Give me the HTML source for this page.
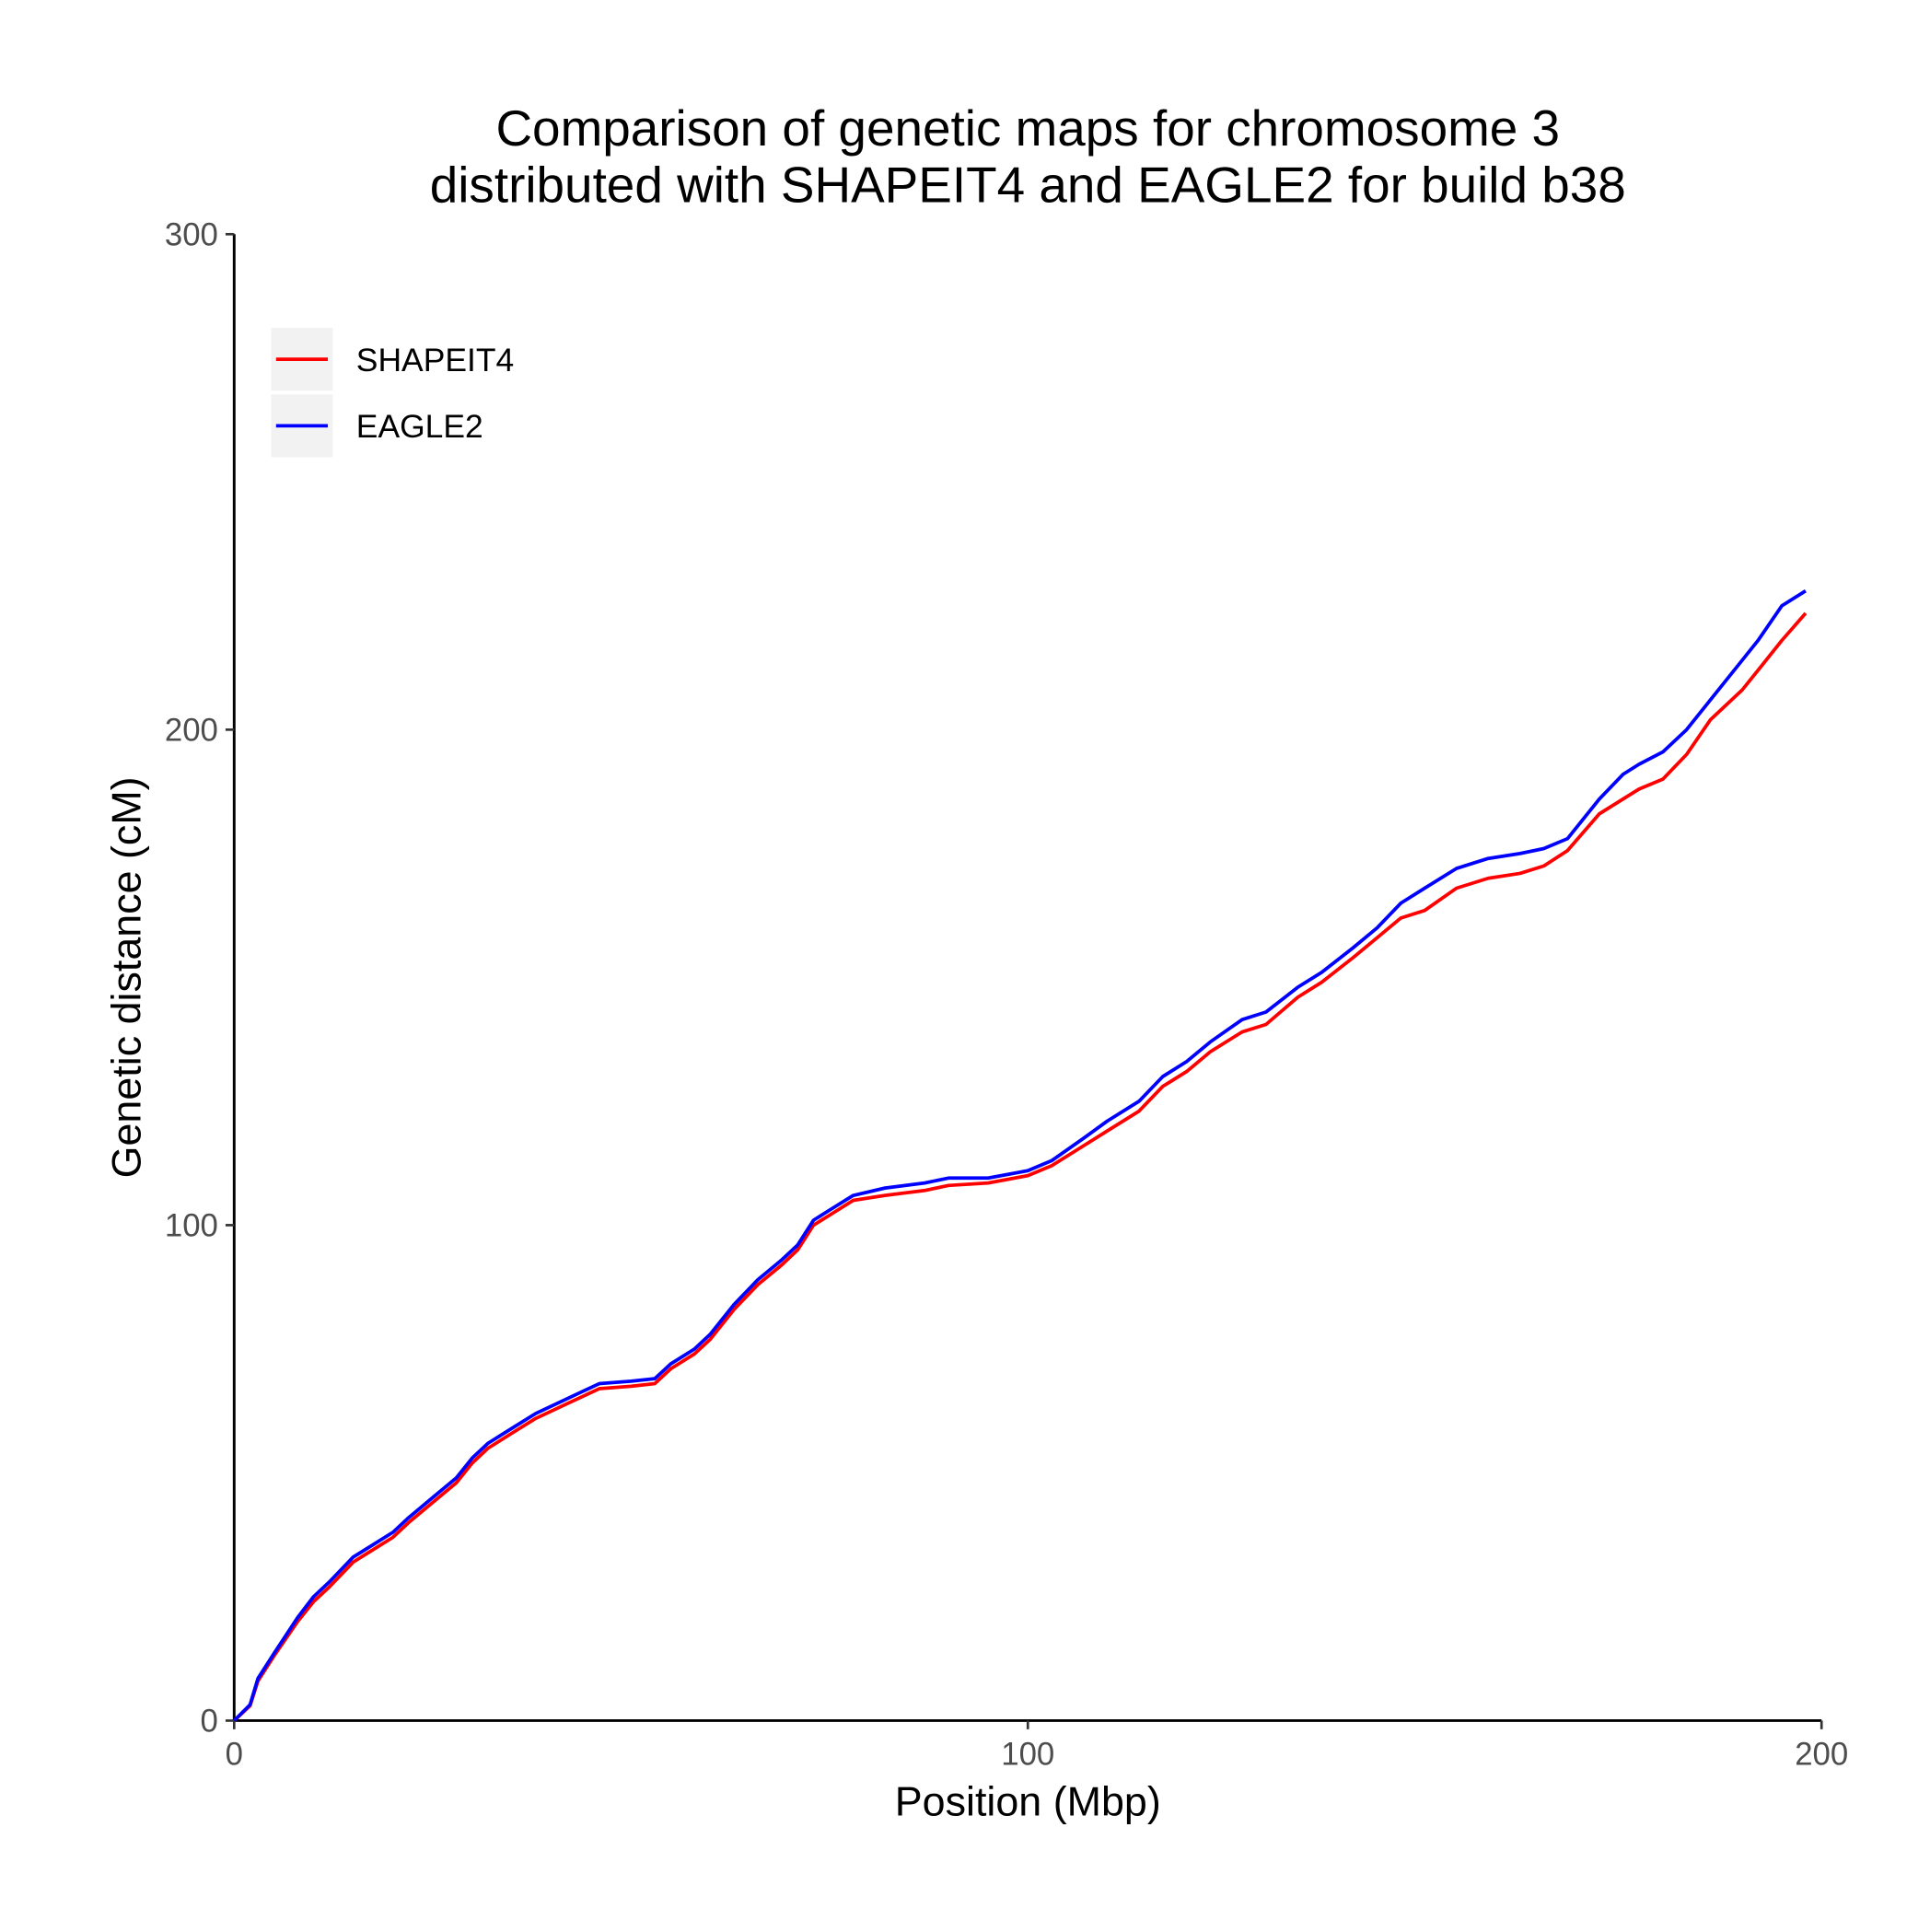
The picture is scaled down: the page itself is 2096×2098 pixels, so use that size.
<!DOCTYPE html>
<html><head><meta charset="utf-8"><style>
html,body{margin:0;padding:0;background:#fff;}
svg{display:block;font-family:"Liberation Sans",Arial,sans-serif;}
</style></head><body>
<svg id="chart" width="2096" height="2098" viewBox="0 0 1566.0 1567.5" preserveAspectRatio="none" xmlns="http://www.w3.org/2000/svg">
<text x="834" y="118" font-size="41" text-anchor="middle">Comparison of genetic maps for chromosome 3</text>
<text x="834" y="164" font-size="41" text-anchor="middle">distributed with SHAPEIT4 and EAGLE2 for build b38</text>
<g id="axes"></g>
<g id="series"></g>
<g>
<rect x="220" y="266" width="50" height="51" fill="#f2f2f2"/>
<line x1="224" y1="291.5" x2="266" y2="291.5" stroke="#ff0000" stroke-width="2.8"/>
<text x="289" y="301" font-size="26.5">SHAPEIT4</text>
<rect x="220" y="320" width="50" height="51" fill="#f2f2f2"/>
<line x1="224" y1="345.5" x2="266" y2="345.5" stroke="#0000ff" stroke-width="2.8"/>
<text x="289" y="355" font-size="26.5">EAGLE2</text>
</g>
<text x="834" y="1473" font-size="33.5" text-anchor="middle">Position (Mbp)</text>
<text transform="translate(114,793) rotate(-90)" font-size="33.5" text-anchor="middle">Genetic distance (cM)</text>
</svg>
<script>
const xTicks=[0,100,200];
const yTicks=[0,100,200,300];
const shapeitPos=[0,2,3,5,8,10,12,15,17,20,22,25,28,30,32,35,38,42,46,50,53,55,58,60,63,66,69,71,73,75,78,82,87,90,95,100,103,107,110,114,117,120,123,127,130,134,137,141,144,147,150,154,158,162,165,168,172,177,180,183,186,190,192,195,198];
const shapeitCM=[0,3,8,13,20,24,27,32,34,37,40,44,48,52,55,58,61,64,67,67.5,68,71,74,77,83,88,92,95,100,102,105,106,107,108,108.5,110,112,116,119,123,128,131,135,139,140.5,146,149,154,158,162,163.5,168,170,171,172.5,175.6,183,188,190,195,202,208,212,218,223.5];
const eaglePos=[0,2,3,5,8,10,12,15,17,20,22,25,28,30,32,35,38,42,46,50,53,55,58,60,63,66,69,71,73,75,78,82,87,90,95,100,103,107,110,114,117,120,123,127,130,134,137,141,144,147,150,154,158,162,165,168,172,175,177,180,183,186,190,192,195,198];
const eagleCM=[0,3.2,8.5,13.5,20.8,25,28,33,35,38,41,45,49,53,56,59,62,65,68,68.5,69,72,75,78,84,89,93,96,101,103,106,107.5,108.5,109.5,109.5,111,113,117.5,121,125,130,133,137,141.5,143,148,151,156,160,165,168,172,174,175,176,178,186,191,193,195.5,200,206,214,218,225,228];
const X0=190,X1=1478,Y0=1396,Y1=190;
function sx(v){return X0+(v-0)/(200-0)*(X1-X0);}
function sy(v){return Y0-(v-0)/(300-0)*(Y0-Y1);}
const NS='http://www.w3.org/2000/svg';
const axes=document.getElementById('axes');
function mk(tag,attrs,parent){const e=document.createElementNS(NS,tag);for(const k in attrs)e.setAttribute(k,attrs[k]);parent.appendChild(e);return e;}
let yl=mk('line',{x1:X0,y1:Y0,x2:X0,y2:Y1,stroke:'#000','stroke-width':2.2},axes);


let xl=mk('line',{x1:X0,y1:Y0,x2:X1,y2:Y0,stroke:'#000','stroke-width':2.2},axes);


xTicks.forEach(t=>{
  mk('line',{x1:sx(t),y1:Y0,x2:sx(t),y2:Y0+7,stroke:'#333','stroke-width':2},axes);
  const tx=mk('text',{x:sx(t),y:Y0+36,'font-size':26,fill:'#4d4d4d','text-anchor':'middle'},axes);
  tx.textContent=t;
  
  
});
yTicks.forEach(t=>{
  mk('line',{x1:X0-7,y1:sy(t),x2:X0,y2:sy(t),stroke:'#333','stroke-width':2},axes);
  const tx=mk('text',{x:X0-13,y:sy(t)+9,'font-size':26,fill:'#4d4d4d','text-anchor':'end'},axes);
  tx.textContent=t;
  
  
});
const series=document.getElementById('series');
function line(xs,ys,color,name){
  const d=xs.map((x,i)=>(i?'L':'M')+sx(x).toFixed(1)+','+sy(ys[i]).toFixed(1)).join('');
  const p=mk('path',{d:d,fill:'none',stroke:color,'stroke-width':2.8,'stroke-linejoin':'round'},series);
  
  
}
line(shapeitPos,shapeitCM,'#ff0000','shapeit4-line');
line(eaglePos,eagleCM,'#0000ff','eagle2-line');
</script>
</body></html>
